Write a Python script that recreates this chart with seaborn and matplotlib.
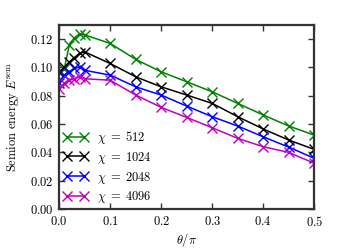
import matplotlib
matplotlib.use("Agg")
import matplotlib.pyplot as plt
from matplotlib.ticker import FuncFormatter
import seaborn as sns
import numpy as np
import pandas as pd

theta = [0.0, 0.01, 0.02, 0.03, 0.04, 0.05, 0.1, 0.15, 0.2, 0.25, 0.3, 0.35, 0.4, 0.45, 0.5]
e512 = [0.097, 0.099, 0.116, 0.121, 0.1235, 0.123, 0.117, 0.1057, 0.0969, 0.0899, 0.0828, 0.0746, 0.0664, 0.0586, 0.0522]
e1024 = [0.097, 0.100, 0.104, 0.107, 0.110, 0.111, 0.1028, 0.0934, 0.0863, 0.0805, 0.0746, 0.0652, 0.0565, 0.0487, 0.0421]
e2048 = [0.089, 0.0946, 0.097, 0.0993, 0.1004, 0.098, 0.0946, 0.0863, 0.0805, 0.0727, 0.0652, 0.0586, 0.051, 0.0437, 0.0358]
e4096 = [0.085, 0.0887, 0.091, 0.092, 0.0934, 0.092, 0.091, 0.0805, 0.0718, 0.0647, 0.0574, 0.0499, 0.044, 0.040, 0.0323]
chis = ["512", "1024", "2048", "4096"]
colors = ["#008000", "#000000", "#0000ff", "#bf00bf"]

df = pd.DataFrame({
    "theta": theta * 4,
    "E": e512 + e1024 + e2048 + e4096,
    "chi": sum([[c] * len(theta) for c in chis], []),
})

plt.rcParams["mathtext.fontset"] = "cm"
plt.rcParams["font.family"] = "DejaVu Serif"
plt.rcParams["xtick.direction"] = "in"
plt.rcParams["ytick.direction"] = "in"

fig = plt.figure(figsize=(3.5, 2.5), dpi=100)
ax = fig.add_axes([0.169, 0.164, 0.729, 0.736])

sns.lineplot(data=df, x="theta", y="E", hue="chi", palette=colors,
             style="chi", markers=["x"] * 4, dashes=False, markersize=7,
             linewidth=1.1, legend=False, ax=ax)
# seaborn draws marker edges white; 'x' markers need the line colour
for ln in ax.lines:
    ln.set_markeredgecolor(ln.get_color())
    ln.set_markeredgewidth(1.0)

ax.set_xlim(0, 0.5)
ax.set_ylim(0, 0.13)
ax.set_xticks(np.arange(0, 0.51, 0.1))
ax.set_yticks(np.arange(0, 0.121, 0.02))
ax.xaxis.set_major_formatter(FuncFormatter(lambda v, p: r"$%.1f$" % v))
ax.yaxis.set_major_formatter(FuncFormatter(lambda v, p: r"$%.2f$" % v))
ax.tick_params(top=True, right=True, length=4, width=1, labelsize=9, pad=4, color="#333333")
for s in ax.spines.values():
    s.set_linewidth(1.6)
    s.set_color("#333333")
    s.set_zorder(3)

ax.set_xlabel(r"$\theta/\pi$", fontsize=9, labelpad=2)
ax.set_ylabel(r"$\mathrm{Semion\ energy}\ E^{\mathrm{sem}}$", fontsize=9, labelpad=6)

ax.legend(ax.lines[:4], [r"$\chi\;=\;%s$" % c for c in chis], loc="lower left",
          numpoints=2, frameon=False, fontsize=9, labelspacing=0.3,
          handlelength=2.0, handletextpad=0.7, borderaxespad=0.0, borderpad=0.3)

fig.savefig("out.png", dpi=100)
